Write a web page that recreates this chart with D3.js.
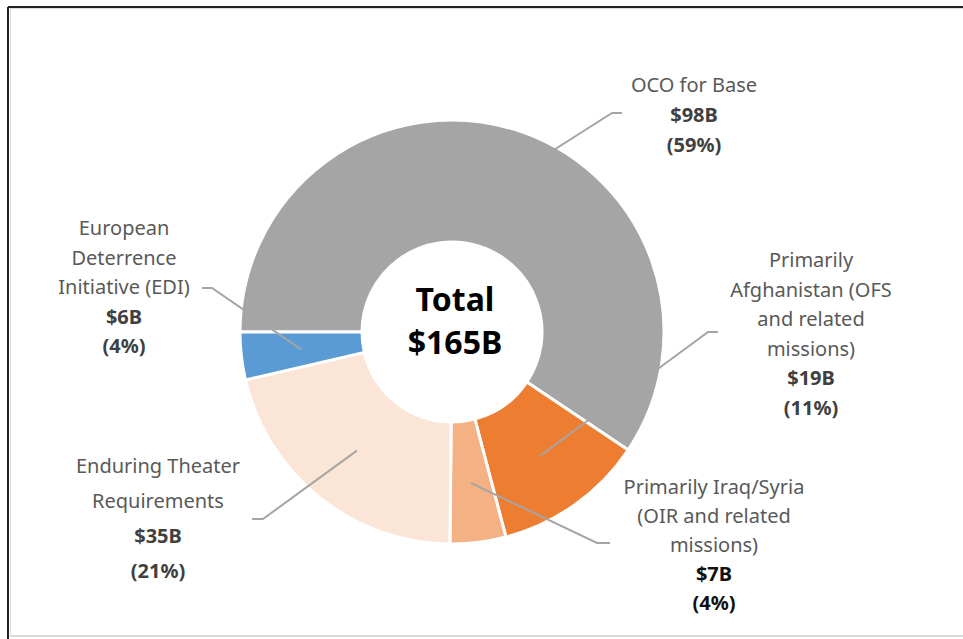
<!DOCTYPE html>
<html>
<head>
<meta charset="utf-8">
<script src="https://cdn.jsdelivr.net/npm/d3@7"></script>
<style>
  body { margin: 0; background: #fff; }
  text { font-family: "Noto Sans", "Open Sans", sans-serif; }
</style>
</head>
<body>
<div id="chart"></div>
<script>
var svgWidth = 963;
var svgHeight = 639;

// data
var categories = ["OCO for Base", "Primarily Afghanistan (OFS and related missions)",
  "Primarily Iraq/Syria (OIR and related missions)", "Enduring Theater Requirements",
  "European Deterrence Initiative (EDI)"];
var values = [98, 19, 7, 35, 6];
var percents = [59, 11, 4, 21, 4];
var labelLines = [
  ["OCO for Base"],
  ["Primarily", "Afghanistan (OFS", "and related", "missions)"],
  ["Primarily Iraq/Syria", "(OIR and related", "missions)"],
  ["Enduring Theater", "Requirements"],
  ["European", "Deterrence", "Initiative (EDI)"]
];
var totalLabel = ["Total", "$165B"];

var colors = ["#a5a5a5", "#ed7d31", "#f4b183", "#fbe5d6", "#5b9bd5"];
var valueColors = ["#404040", "#404040", "#111111", "#404040", "#404040"];

// label layout: text centre x, first line y, line step, leader elbow and end
var labelLayout = [
  {x: 694, y: 85, step: 30, elbow: [612, 113], end: [622, 113]},
  {x: 811, y: 260, step: 29.5, elbow: [708, 332], end: [718, 332]},
  {x: 714, y: 487, step: 29, elbow: [597, 543], end: [610, 543]},
  {x: 158, y: 466, step: 35, elbow: [263, 519], end: [252, 519]},
  {x: 124, y: 228, step: 29.5, elbow: [212, 288], end: [202, 288]}
];

var cx = 452, cy = 332;
var outerR = 212, innerR = 90;

var svg = d3.select("#chart")
  .append("svg")
  .attr("width", svgWidth)
  .attr("height", svgHeight);

// frame
svg.append("line").attr("x1", 8).attr("y1", 7).attr("x2", svgWidth).attr("y2", 7)
  .attr("stroke", "#222").attr("stroke-width", 2);
svg.append("line").attr("x1", 8).attr("y1", 7).attr("x2", 8).attr("y2", svgHeight)
  .attr("stroke", "#222").attr("stroke-width", 2);
svg.append("line").attr("x1", 10).attr("y1", 8.5).attr("x2", svgWidth).attr("y2", 8.5)
  .attr("stroke", "#ddd").attr("stroke-width", 1);
svg.append("line").attr("x1", 10.5).attr("y1", 8).attr("x2", 10.5).attr("y2", 636)
  .attr("stroke", "#ddd").attr("stroke-width", 1);
svg.append("line").attr("x1", 10).attr("y1", 636).attr("x2", svgWidth).attr("y2", 636)
  .attr("stroke", "#d9d9d9").attr("stroke-width", 2);

var pie = d3.pie()
  .sort(null)
  .startAngle(-Math.PI / 2)
  .endAngle(Math.PI * 1.5)
  .value(d => d);

var arcs = pie(values);

var arc = d3.arc().innerRadius(innerR).outerRadius(outerR);
var midArc = d3.arc().innerRadius(152).outerRadius(152);

var chartGroup = svg.append("g")
  .attr("transform", `translate(${cx}, ${cy})`);

chartGroup.selectAll("path.slice")
  .data(arcs)
  .enter()
  .append("path")
  .attr("class", "slice")
  .attr("d", arc)
  .attr("fill", (d, i) => colors[i])
  .attr("stroke", "#fff")
  .attr("stroke-width", 3);

// leader lines
svg.selectAll("polyline.leader")
  .data(arcs)
  .enter()
  .append("polyline")
  .attr("class", "leader")
  .attr("points", function(d, i) {
    var c = midArc.centroid(d);
    var L = labelLayout[i];
    return [[cx + c[0], cy + c[1]], L.elbow, L.end].map(p => p.join(",")).join(" ");
  })
  .attr("fill", "none")
  .attr("stroke", "#a5a5a5")
  .attr("stroke-width", 2);

// labels
categories.forEach(function(cat, i) {
  var L = labelLayout[i];
  var g = svg.append("text")
    .attr("text-anchor", "middle")
    .attr("font-size", "20px");
  var lines = labelLines[i];
  lines.forEach(function(t, j) {
    g.append("tspan")
      .attr("x", L.x)
      .attr("y", L.y + j * L.step)
      .attr("dy", "0.35em")
      .attr("fill", "#595959")
      .text(t);
  });
  var n = lines.length;
  g.append("tspan")
    .attr("x", L.x)
    .attr("y", L.y + n * L.step)
    .attr("dy", "0.35em")
    .attr("font-weight", "bold")
    .attr("fill", valueColors[i])
    .text("$" + values[i] + "B");
  g.append("tspan")
    .attr("x", L.x)
    .attr("y", L.y + (n + 1) * L.step)
    .attr("dy", "0.35em")
    .attr("font-weight", "bold")
    .attr("fill", valueColors[i])
    .text("(" + percents[i] + "%)");
});

// centre total
svg.append("text")
  .attr("text-anchor", "middle")
  .attr("font-size", "32px")
  .attr("font-weight", "bold")
  .attr("fill", "#000")
  .selectAll("tspan")
  .data(totalLabel)
  .enter()
  .append("tspan")
  .attr("x", 455)
  .attr("y", (d, i) => 300 + i * 43)
  .attr("dy", "0.35em")
  .text(d => d);
</script>
</body>
</html>
